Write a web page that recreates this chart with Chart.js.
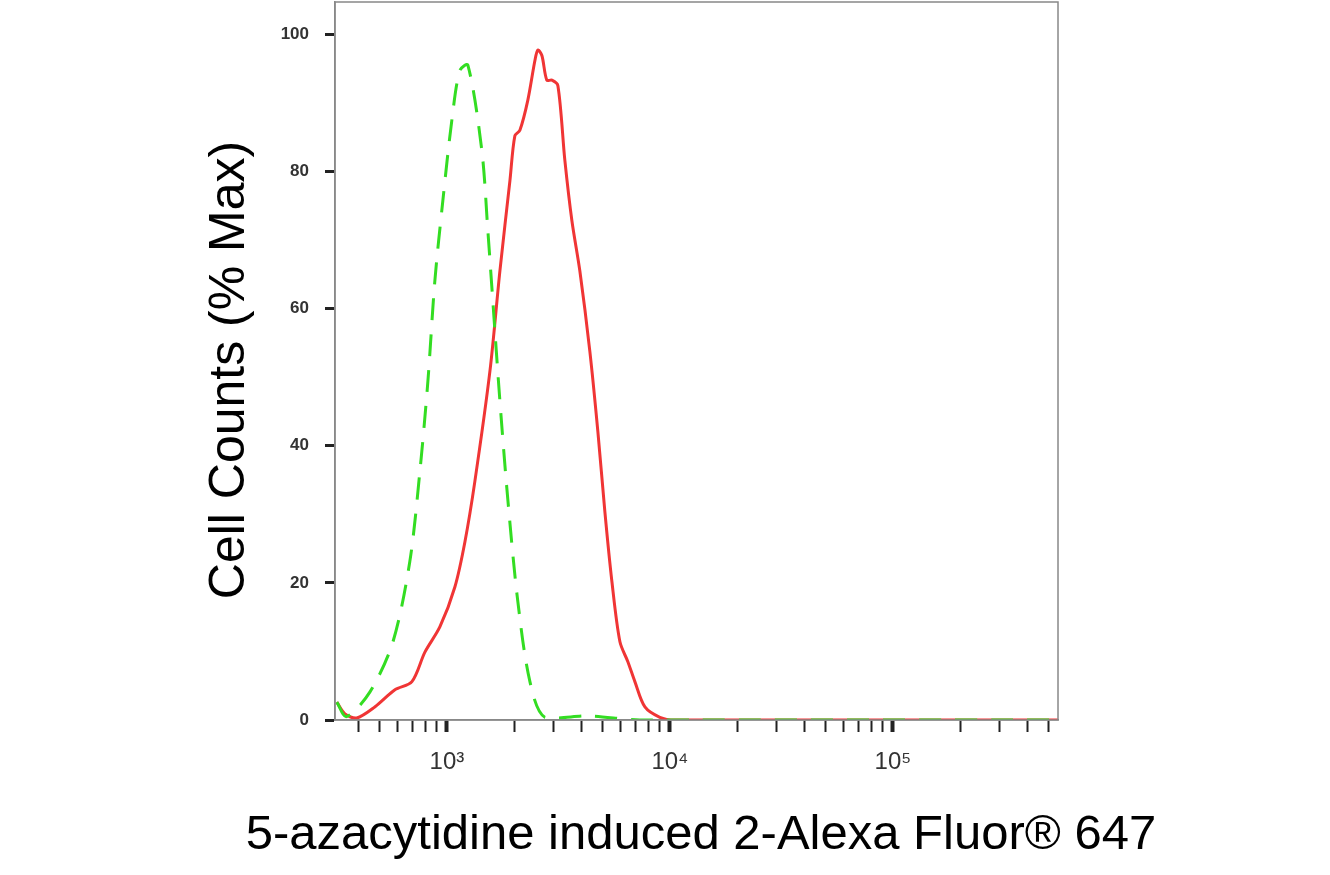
<!DOCTYPE html>
<html>
<head>
<meta charset="utf-8">
<script src="https://cdn.jsdelivr.net/npm/chart.js@4/dist/chart.umd.min.js"></script>
<style>
  html, body { margin: 0; padding: 0; background: #fff; }
  #wrap { width: 1330px; height: 875px; }
</style>
</head>
<body>
<div id="wrap"><canvas id="c"></canvas></div>
<script>
// isotype control (green dashed)
const isoX = [321, 355, 452, 573, 682, 757, 822, 883, 959, 1052, 1143, 1242, 1435, 1527, 1607, 1729, 1879, 2080, 2357, 2750, 4375, 7336, 549500];
const isoY = [2.6, 0.5, 4.1, 11.4, 23.1, 36.3, 49.4, 64.0, 75.7, 87.4, 94.7, 95.5, 83.0, 71.3, 61.1, 46.5, 31.9, 17.3, 5.6, 0.4, 0.6, 0, 0];

// 5-azacytidine induced sample (red)
const sampleX = [321, 349, 394, 475, 585, 697, 797, 931, 1086, 1205, 1335, 1560, 1729, 1918, 2018, 2125, 2307, 2483, 2559, 2667, 2806, 2958, 3146, 3381, 3636, 3946, 4375, 4753, 5110, 5495, 5970, 6480, 6966, 7727, 9016, 10520, 549500];
const sampleY = [2.6, 0.9, 0.3, 1.9, 4.4, 5.6, 9.9, 13.6, 19.4, 26.0, 34.8, 50.9, 65.5, 78.7, 85.2, 86.0, 90.4, 96.2, 97.7, 96.9, 93.3, 93.3, 92.5, 81.6, 72.8, 65.5, 53.8, 42.1, 30.4, 20.2, 11.4, 8.5, 5.6, 1.9, 0.4, 0, 0];

const yTicks = [0, 20, 40, 60, 80, 100];
const xMajor = [1000, 10000, 100000];
const xMajorLabels = ['10³', '10⁴', '10⁵'];
const xMinor = [400, 500, 600, 700, 800, 900, 2000, 3000, 4000, 5000, 6000, 7000, 8000, 9000,
  20000, 30000, 40000, 50000, 60000, 70000, 80000, 90000, 200000, 300000, 400000, 500000];

const xTitle = '5-azacytidine induced 2-Alexa Fluor® 647';
const yTitle = 'Cell Counts (% Max)';

const toPts = (xs, ys) => xs.map((x, i) => ({ x: x, y: ys[i] }));

// frame around the plot + the two big axis titles (wider than the axes)
const frame = {
  id: 'frame',
  afterDraw(chart) {
    const { ctx, chartArea: a } = chart;
    ctx.save();
    ctx.strokeStyle = '#888';
    ctx.lineWidth = 1.5;
    ctx.strokeRect(a.left, a.top, a.right - a.left, a.bottom - a.top);

    ctx.fillStyle = '#000';
    ctx.textAlign = 'center';
    ctx.textBaseline = 'middle';
    ctx.font = '49px "Liberation Sans"';
    ctx.fillText(xTitle, 701, 835);

    ctx.font = '50px "Liberation Sans"';
    ctx.translate(230, 370);
    ctx.rotate(-Math.PI / 2);
    ctx.fillText(yTitle, 0, 0);
    ctx.restore();
  }
};

new Chart(document.getElementById('c'), {
  type: 'line',
  data: {
    datasets: [
      { data: toPts(isoX, isoY), borderColor: '#33dd22', borderWidth: 3, borderDash: [22, 14], pointRadius: 0, tension: 0.3, fill: false },
      { data: toPts(sampleX, sampleY), borderColor: '#f03535', borderWidth: 3, pointRadius: 0, tension: 0.3, fill: false }
    ]
  },
  options: {
    responsive: true,
    maintainAspectRatio: false,
    animation: false,
    layout: { padding: { left: 195, top: 2, right: 272, bottom: 0 } },
    plugins: { legend: { display: false }, tooltip: { enabled: false } },
    scales: {
      x: {
        type: 'logarithmic',
        min: 315,
        max: 550000,
        afterBuildTicks: (s) => {
          s.ticks = xMajor.concat(xMinor).map(v => ({ value: v }));
        },
        afterFit: (s) => { s.height = 155; s.paddingLeft = 0; s.paddingRight = 0; },
        border: { color: '#888', width: 1.5 },
        grid: {
          drawOnChartArea: false,
          tickLength: 12,
          color: '#222',
          tickWidth: (c) => xMajor.includes(c.tick && c.tick.value) ? 4 : 2
        },
        ticks: {
          autoSkip: false,
          maxRotation: 0,
          padding: 16,
          color: '#333',
          font: { family: 'Liberation Sans Narrow, Liberation Sans', size: 24 },
          callback: (v) => { const i = xMajor.indexOf(v); return i >= 0 ? xMajorLabels[i] : ''; }
        }
      },
      y: {
        min: 0,
        max: 104.7,
        afterBuildTicks: (s) => { s.ticks = yTicks.map(v => ({ value: v })); },
        afterFit: (s) => { s.width = 140; s.paddingTop = 0; s.paddingBottom = 0; },
        border: { color: '#888', width: 1.5 },
        grid: { drawOnChartArea: false, tickLength: 10, color: '#222', tickWidth: 3 },
        ticks: {
          padding: 16,
          color: '#333',
          font: { family: 'Liberation Sans', size: 17, weight: 'bold' }
        }
      }
    }
  },
  plugins: [frame]
});
</script>
</body>
</html>
